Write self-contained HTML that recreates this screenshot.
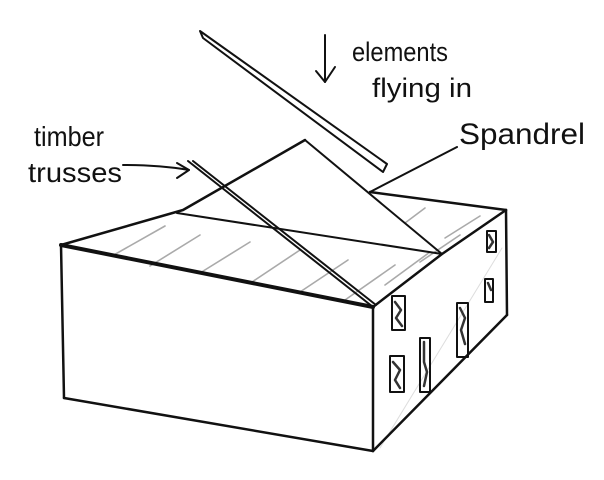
<!DOCTYPE html>
<html><head><meta charset="utf-8"><style>
html,body{margin:0;padding:0;background:#fff;}
svg{display:block;}
text{font-family:"Liberation Sans",sans-serif;fill:#111;}
</style></head><body>
<svg width="604" height="480" viewBox="0 0 604 480" xmlns="http://www.w3.org/2000/svg">
<g stroke="#aaa" stroke-width="1.6" fill="none" stroke-linecap="round">
<line x1="112" y1="256" x2="165" y2="226"/>
<line x1="150" y1="266" x2="200" y2="235"/>
<line x1="200" y1="273" x2="250" y2="242"/>
<line x1="252" y1="282" x2="300" y2="250"/>
<line x1="300" y1="292" x2="348" y2="260"/>
<line x1="345" y1="300" x2="395" y2="265"/>
<line x1="385" y1="285" x2="430" y2="252"/>
<line x1="420" y1="262" x2="460" y2="235"/>
<line x1="445" y1="238" x2="480" y2="216"/>
<line x1="405" y1="223" x2="425" y2="208"/>
<line x1="380" y1="448" x2="502" y2="248" stroke="#ddd" stroke-width="1"/>
</g>
<g stroke="#111" fill="none" stroke-linecap="round" stroke-linejoin="round">
<polyline points="61,245 373,307" stroke-width="4"/>
<line x1="61" y1="245" x2="64" y2="398" stroke-width="2.5"/>
<line x1="64" y1="398" x2="373" y2="451" stroke-width="2.5"/>
<line x1="373" y1="307" x2="373" y2="451" stroke-width="2.5"/>
<line x1="373" y1="451" x2="507" y2="315" stroke-width="2.5"/>
<line x1="506" y1="210" x2="507" y2="315" stroke-width="2.5"/>
<polyline points="373,307 442,254 506,210" stroke-width="2.5"/>
<line x1="370" y1="192" x2="506" y2="210" stroke-width="2.5"/>
<polyline points="61,245 183,210 305,140" stroke-width="2.5"/>
<line x1="305" y1="140" x2="442" y2="254" stroke-width="2"/>
<line x1="177" y1="213" x2="442" y2="254" stroke-width="2"/>
<line x1="188" y1="161" x2="373" y2="307" stroke-width="2"/>
<line x1="193" y1="161" x2="376" y2="305" stroke-width="2"/>
<polygon points="200,31 203,38 383,172 387,164" stroke-width="2"/>
<line x1="370" y1="192" x2="457" y2="147" stroke-width="2"/>
<line x1="325" y1="35" x2="325" y2="82" stroke-width="2"/>
<polyline points="316,71 325,82 335,67" stroke-width="2"/>
<path d="M123,165 Q160,165 189,170" stroke-width="2"/>
<polyline points="177,163 189,170 177,178" stroke-width="2"/>
<g stroke-width="2">
<rect x="392" y="296" width="13" height="34"/>
<rect x="390" y="356" width="14" height="36"/>
<rect x="420" y="338" width="10" height="54"/>
<rect x="457" y="303" width="11" height="54"/>
<rect x="485" y="279" width="8" height="23"/>
<rect x="487" y="231" width="9" height="21"/>
</g>
<g stroke-width="2.5" stroke="#333">
<path d="M395,302 l6,8 -5,8 6,8"/>
<path d="M393,362 l7,8 -5,10 5,8"/>
<path d="M424,342 v20 l3,10 -3,14"/>
<path d="M460,308 l5,10 -4,12 4,14"/>
<path d="M489,235 l4,7 -4,6"/>
<path d="M488,283 l3,7"/>
</g>
</g>
<text x="352" y="61" font-size="27" textLength="96" lengthAdjust="spacingAndGlyphs">elements</text>
<text x="372" y="97" font-size="27" textLength="100" lengthAdjust="spacingAndGlyphs">flying in</text>
<text x="459" y="144" font-size="30" textLength="126" lengthAdjust="spacingAndGlyphs">Spandrel</text>
<text x="34" y="146" font-size="28" textLength="70" lengthAdjust="spacingAndGlyphs">timber</text>
<text x="28" y="182" font-size="28" textLength="94" lengthAdjust="spacingAndGlyphs">trusses</text>
</svg>
</body></html>
